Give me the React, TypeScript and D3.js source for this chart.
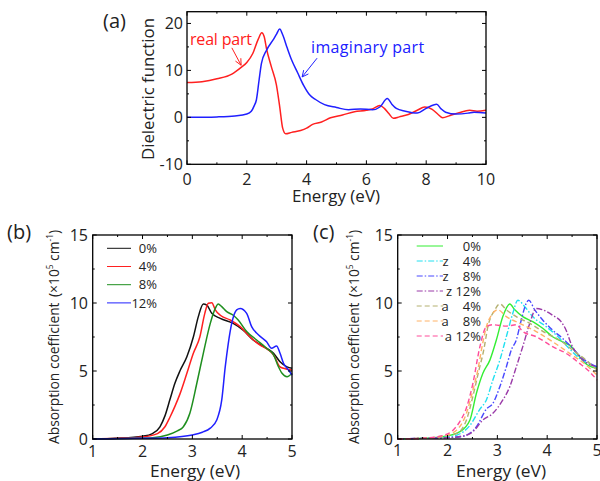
import React from "react";
import * as d3 from "d3";

type Pt = [number, number];

const FONT = "'Open Sans', 'Noto Sans', sans-serif";

// (a) dielectric function vs energy (eV)
const realPart: Pt[] = [
  [0, 7.4], [0.5, 7.6], [1.0, 8.2], [1.5, 9.2], [1.8, 10.6], [2.0, 11.7], [2.2, 13.6], [2.38, 16.6],
  [2.5, 18.0], [2.58, 17.2], [2.66, 14.6], [2.82, 10.8], [2.99, 6.9], [3.1, 2.3], [3.2, -2.3],
  [3.3, -3.5], [3.5, -3.2], [3.8, -2.8], [4.0, -2.3], [4.2, -1.5], [4.5, -1.0], [4.8, -0.1],
  [5.2, 0.5], [5.6, 1.2], [6.0, 1.5], [6.2, 1.8], [6.45, 2.5], [6.6, 1.9], [6.75, 0.8], [6.9, -0.2],
  [7.1, 0.1], [7.4, 0.6], [7.7, 1.5], [7.95, 2.2], [8.2, 1.7], [8.4, 0.6], [8.55, -0.1], [8.8, 0.4],
  [9.1, 1.0], [9.45, 1.5], [9.7, 1.3], [10, 1.5],
];
const imagPart: Pt[] = [
  [0, 0], [1.0, 0.1], [1.6, 0.3], [2.0, 0.7], [2.15, 1.3], [2.25, 2.5], [2.32, 3.7], [2.41, 7.9],
  [2.49, 11.5], [2.66, 14.3], [2.88, 16.5], [3.0, 17.8], [3.1, 18.8], [3.2, 17.6], [3.35, 14.8],
  [3.5, 12.2], [3.7, 9.5], [3.9, 6.8], [4.1, 4.8], [4.3, 3.8], [4.6, 2.7], [5.0, 2.1], [5.4, 1.6],
  [5.8, 1.8], [6.2, 1.6], [6.45, 2.2], [6.7, 4.0], [6.85, 2.8], [7.0, 1.9], [7.3, 1.3], [7.7, 0.9],
  [8.0, 1.9], [8.35, 2.8], [8.5, 1.8], [8.65, 1.1], [9.0, 0.7], [9.4, 0.9], [9.6, 1.1], [10, 0.9],
];

// (b) absorption coefficient (1e5 cm^-1), strain series
const strain0: Pt[] = [
  [1, 0], [1.5, 0.05], [2, 0.2], [2.2, 0.4], [2.35, 0.9], [2.45, 1.7], [2.55, 2.9], [2.65, 4.1],
  [2.75, 5.0], [2.89, 6.05], [3.02, 7.5], [3.12, 9.0], [3.22, 9.93], [3.29, 9.85], [3.39, 9.24],
  [3.56, 8.87], [3.82, 8.5], [4.02, 8.0], [4.22, 7.28], [4.43, 6.79], [4.63, 6.3], [4.76, 5.68],
  [4.9, 5.3], [5, 5.2],
];
const strain4: Pt[] = [
  [1, 0], [1.5, 0.05], [2, 0.15], [2.3, 0.4], [2.45, 0.9], [2.55, 1.6], [2.65, 2.4], [2.75, 3.3],
  [2.89, 4.83], [3.02, 6.3], [3.15, 7.5], [3.25, 9.24], [3.32, 9.98], [3.39, 10.02], [3.46, 9.5],
  [3.56, 9.1], [3.76, 8.75], [3.96, 8.26], [4.16, 7.5], [4.36, 6.9], [4.53, 6.54], [4.63, 6.18],
  [4.76, 5.3], [4.83, 5.2], [5, 5.07],
];
const strain8: Pt[] = [
  [1, 0], [1.8, 0.05], [2.2, 0.1], [2.5, 0.3], [2.7, 0.6], [2.82, 0.9], [2.95, 1.9], [3.09, 4.1],
  [3.22, 6.3], [3.36, 8.5], [3.46, 9.6], [3.52, 9.93], [3.59, 9.73], [3.69, 9.36], [3.82, 9.1],
  [3.92, 8.75], [4.09, 7.9], [4.29, 7.28], [4.49, 6.67], [4.63, 6.18], [4.73, 5.3], [4.8, 4.83],
  [4.9, 4.58], [5, 4.83],
];
const strain12: Pt[] = [
  [1, 0], [2, 0.05], [2.5, 0.1], [3.0, 0.3], [3.2, 0.5], [3.36, 0.8], [3.49, 1.4], [3.59, 2.87],
  [3.66, 5.3], [3.72, 7.0], [3.79, 8.5], [3.89, 9.5], [3.96, 9.6], [4.09, 9.24], [4.19, 8.26],
  [4.33, 7.65], [4.49, 7.15], [4.59, 6.67], [4.69, 6.84], [4.76, 6.3], [4.83, 5.57], [4.93, 5.07],
  [5, 4.7],
];

// (c) uniaxial strain along z and a
const c0: Pt[] = [
  [1, 0], [1.5, 0.05], [1.91, 0.17], [2.25, 0.54], [2.45, 1.4], [2.58, 3.36], [2.71, 4.83],
  [2.85, 5.8], [2.98, 7.28], [3.11, 9.0], [3.25, 9.93], [3.35, 9.5], [3.51, 9.0], [3.71, 8.63],
  [3.91, 8.14], [4.11, 7.52], [4.31, 7.15], [4.45, 6.9], [4.65, 6.05], [4.81, 5.44], [5, 5.2],
];
const z4: Pt[] = [
  [1, 0], [1.5, 0.05], [2.0, 0.15], [2.2, 0.3], [2.45, 1.0], [2.65, 2.2], [2.78, 2.87], [2.91, 4.34],
  [3.05, 5.8], [3.18, 7.52], [3.31, 9.24], [3.41, 10.2], [3.55, 9.73], [3.71, 9.0], [3.98, 8.26],
  [4.18, 7.65], [4.38, 6.9], [4.65, 5.93], [5, 5.3],
];
const z8: Pt[] = [
  [1, 0], [1.5, 0.05], [2.0, 0.1], [2.3, 0.2], [2.58, 0.9], [2.78, 2.2], [2.91, 2.62], [3.05, 3.85],
  [3.18, 5.3], [3.28, 6.54], [3.38, 7.28], [3.48, 8.75], [3.58, 9.98], [3.63, 10.2], [3.75, 9.5],
  [3.91, 8.75], [4.11, 8.0], [4.31, 7.4], [4.48, 6.79], [4.71, 5.93], [5, 5.3],
];
const z12: Pt[] = [
  [1, 0], [1.5, 0.05], [2.0, 0.1], [2.3, 0.2], [2.51, 0.54], [2.71, 1.4], [2.91, 1.89], [3.11, 2.87],
  [3.25, 3.85], [3.38, 5.3], [3.51, 6.79], [3.65, 8.5], [3.78, 9.6], [3.91, 9.5], [4.11, 9.1],
  [4.28, 8.63], [4.38, 8.0], [4.48, 7.0], [4.65, 6.05], [5, 5.3],
];
const a4: Pt[] = [
  [1, 0], [1.5, 0.05], [1.9, 0.2], [2.18, 0.4], [2.38, 1.4], [2.5, 3.0], [2.62, 4.9], [2.73, 6.6],
  [2.81, 8.26], [2.95, 9.5], [3.05, 9.93], [3.18, 9.5], [3.38, 9.0], [3.65, 8.5], [3.98, 7.77],
  [4.25, 7.28], [4.51, 6.54], [4.78, 5.8], [5, 5.07],
];
const a8: Pt[] = [
  [1, 0], [1.5, 0.05], [1.9, 0.2], [2.18, 0.65], [2.38, 1.9], [2.51, 3.6], [2.62, 5.3], [2.68, 6.54],
  [2.78, 8.26], [2.88, 9.1], [3.01, 9.5], [3.18, 9.0], [3.45, 8.5], [3.78, 7.9], [4.11, 7.15],
  [4.45, 6.3], [4.78, 5.44], [5, 4.7],
];
const a12: Pt[] = [
  [1, 0], [1.5, 0.05], [1.9, 0.25], [2.11, 0.65], [2.25, 1.3], [2.38, 2.3], [2.51, 4.1], [2.65, 6.79],
  [2.78, 8.26], [2.91, 8.4], [3.18, 8.3], [3.38, 8.4], [3.51, 7.9], [3.78, 7.52], [4.11, 6.79],
  [4.38, 6.3], [4.65, 5.56], [4.85, 4.95], [5, 4.34],
];

const seriesB = [
  { label: "0%", data: strain0, color: "#111111" },
  { label: "4%", data: strain4, color: "#ff2020" },
  { label: "8%", data: strain8, color: "#1f8f1f" },
  { label: "12%", data: strain12, color: "#2020ff" },
];
const dashDot = "6,2,1.5,2";
const dashed = "5,3";
const seriesC = [
  { label: "0%", data: c0, color: "#33ee33", dash: undefined },
  { label: "z \u2007 4%", data: z4, color: "#22e0f0", dash: dashDot },
  { label: "z \u2007 8%", data: z8, color: "#4848ff", dash: dashDot },
  { label: "z 12%", data: z12, color: "#9a3aa8", dash: dashDot },
  { label: "a \u2007 4%", data: a4, color: "#b4b070", dash: dashed },
  { label: "a \u2007 8%", data: a8, color: "#ffb266", dash: dashed },
  { label: "a 12%", data: a12, color: "#ff4d9a", dash: dashed },
];

interface Box { left: number; right: number; top: number; bottom: number }

function Frame(props: {
  box: Box; x: any; y: any; xMajor: number[]; xMinor: number[]; yMajor: number[]; yMinor: number[];
  xLabelY: number; yLabelX: number;
}) {
  const { box, x, y, xMajor, xMinor, yMajor, yMinor, xLabelY, yLabelX } = props;
  const tick = (v: number, len: number, axis: "x" | "y", k: string) =>
    axis === "x" ? (
      <g key={k}>
        <line x1={x(v)} x2={x(v)} y1={box.bottom} y2={box.bottom - len} stroke="#000" />
        <line x1={x(v)} x2={x(v)} y1={box.top} y2={box.top + len} stroke="#000" />
      </g>
    ) : (
      <g key={k}>
        <line x1={box.left} x2={box.left + len} y1={y(v)} y2={y(v)} stroke="#000" />
        <line x1={box.right} x2={box.right - len} y1={y(v)} y2={y(v)} stroke="#000" />
      </g>
    );
  return (
    <g>
      {xMajor.map((v, i) => tick(v, 4, "x", "xM" + i))}
      {xMinor.map((v, i) => tick(v, 2, "x", "xm" + i))}
      {yMajor.map((v, i) => tick(v, 4, "y", "yM" + i))}
      {yMinor.map((v, i) => tick(v, 2, "y", "ym" + i))}
      <rect x={box.left} y={box.top} width={box.right - box.left} height={box.bottom - box.top}
        fill="none" stroke="#000" strokeWidth={1.3} />
      {xMajor.map((v, i) => (
        <text key={"xl" + i} x={x(v)} y={xLabelY} textAnchor="middle" fontSize={16} fill="#222">{v}</text>
      ))}
      {yMajor.map((v, i) => (
        <text key={"yl" + i} x={yLabelX} y={y(v)} dy="0.36em" textAnchor="end" fontSize={16} fill="#222">{v}</text>
      ))}
    </g>
  );
}

function Arrow({ from, to, color }: { from: Pt; to: Pt; color: string }) {
  const ang = Math.atan2(to[1] - from[1], to[0] - from[0]);
  const L = 7, spread = 0.45;
  const p1 = [to[0] - L * Math.cos(ang - spread), to[1] - L * Math.sin(ang - spread)];
  const p2 = [to[0] - L * Math.cos(ang + spread), to[1] - L * Math.sin(ang + spread)];
  return (
    <g stroke={color} strokeWidth={1} fill="none">
      <line x1={from[0]} y1={from[1]} x2={to[0]} y2={to[1]} />
      <polyline points={`${p1[0]},${p1[1]} ${to[0]},${to[1]} ${p2[0]},${p2[1]}`} />
    </g>
  );
}

function AbsLabel({ x, y }: { x: number; y: number }) {
  return (
    <text transform={`translate(${x},${y}) rotate(-90)`} textAnchor="middle" fontSize={15} fill="#222"
      textLength={214} lengthAdjust="spacingAndGlyphs">
      Absorption coefficient<tspan dx="6">(×10</tspan>
      <tspan fontSize={9} dy="-6">5</tspan>
      <tspan dy="6"> cm</tspan>
      <tspan fontSize={9} dy="-6">-1</tspan>
      <tspan dy="6">)</tspan>
    </text>
  );
}

export default function App() {
  // panel (a)
  const boxA: Box = { left: 187, right: 486, top: 11.7, bottom: 164.3 };
  const xA = d3.scaleLinear().domain([0, 10]).range([boxA.left, boxA.right]);
  const yA = d3.scaleLinear().domain([-10, 22.5]).range([boxA.bottom, boxA.top]);
  const lineA = d3.line<Pt>().x(d => xA(d[0])).y(d => yA(d[1])).curve(d3.curveMonotoneX);

  // panel (b)
  const boxB: Box = { left: 92.7, right: 292, top: 235, bottom: 439 };
  const xB = d3.scaleLinear().domain([1, 5]).range([boxB.left, boxB.right]);
  const yB = d3.scaleLinear().domain([0, 15]).range([boxB.bottom, boxB.top]);
  const lineB = d3.line<Pt>().x(d => xB(d[0])).y(d => yB(d[1])).curve(d3.curveMonotoneX);

  // panel (c)
  const boxC: Box = { left: 397.7, right: 597, top: 235, bottom: 439 };
  const xC = d3.scaleLinear().domain([1, 5]).range([boxC.left, boxC.right]);
  const yC = d3.scaleLinear().domain([0, 15]).range([boxC.bottom, boxC.top]);
  const lineC = d3.line<Pt>().x(d => xC(d[0])).y(d => yC(d[1])).curve(d3.curveMonotoneX);

  const e5 = d3.range(1, 5.01, 1);
  const e5minor = d3.range(1.5, 5, 1);
  const abs = [0, 5, 10, 15];
  const absMinor = [2.5, 7.5, 12.5];

  return (
    <svg width={600} height={481} style={{ position: "absolute", left: 0, top: 0, background: "#fff" }}
      fontFamily={FONT}>
      {/* (a) */}
      <text x={126} y={28} textAnchor="end" fontSize={20} fill="#222">(a)</text>
      <g clipPath="url(#clipA)">
        <path d={lineA(realPart) || ""} fill="none" stroke="#ff2020" strokeWidth={1.5} />
        <path d={lineA(imagPart) || ""} fill="none" stroke="#2020ff" strokeWidth={1.5} />
      </g>
      <Frame box={boxA} x={xA} y={yA} xMajor={d3.range(0, 10.01, 2)} xMinor={d3.range(1, 10, 2)}
        yMajor={[-10, 0, 10, 20]} yMinor={[-5, 5, 15]} xLabelY={185} yLabelX={183} />
      <text x={xA(0.1)} y={yA(15.4)} fontSize={16} fill="#ff2020" textLength={62}>real part</text>
      <Arrow from={[xA(1.5), yA(14.8)]} to={[xA(1.81), yA(11.1)]} color="#ff2020" />
      <text x={xA(4.15)} y={yA(13.7)} fontSize={16} fill="#2020ff" textLength={113}>imaginary part</text>
      <Arrow from={[xA(4.35), yA(12.6)]} to={[xA(3.85), yA(8.6)]} color="#2020ff" />
      <text transform={`translate(154,89) rotate(-90)`} textAnchor="middle" fontSize={17} fill="#222"
        textLength={142} lengthAdjust="spacingAndGlyphs">Dielectric function</text>
      <text x={336} y={202} textAnchor="middle" fontSize={16} fill="#222" textLength={88}
        lengthAdjust="spacingAndGlyphs">Energy (eV)</text>

      {/* (b) */}
      <text x={7} y={239} fontSize={20} fill="#222">(b)</text>
      {seriesB.map(s => (
        <path key={s.label} d={lineB(s.data) || ""} fill="none" stroke={s.color} strokeWidth={1.5} />
      ))}
      <Frame box={boxB} x={xB} y={yB} xMajor={e5} xMinor={e5minor} yMajor={abs} yMinor={absMinor}
        xLabelY={456.5} yLabelX={88} />
      {seriesB.map((s, i) => (
        <g key={"lb" + i}>
          <line x1={107} x2={131} y1={248.3 + i * 18.2} y2={248.3 + i * 18.2} stroke={s.color} strokeWidth={1} />
          <text x={157} y={248.3 + i * 18.2} dy="0.36em" textAnchor="end" fontSize={13} fill="#222">{s.label}</text>
        </g>
      ))}
      <AbsLabel x={59} y={337} />
      <text x={195} y={477} textAnchor="middle" fontSize={16} fill="#222" textLength={90}
        lengthAdjust="spacingAndGlyphs">Energy (eV)</text>

      {/* (c) */}
      <text x={313} y={239} fontSize={20} fill="#222">(c)</text>
      {seriesC.map((s, i) => (
        <path key={"c" + i} d={lineC(s.data) || ""} fill="none" stroke={s.color} strokeWidth={1.4}
          strokeDasharray={s.dash} />
      ))}
      <Frame box={boxC} x={xC} y={yC} xMajor={e5} xMinor={e5minor} yMajor={abs} yMinor={absMinor}
        xLabelY={455.5} yLabelX={393} />
      {seriesC.map((s, i) => {
        const ly = 246 + i * 15;
        return (
          <g key={"lc" + i}>
            <line x1={416.7} x2={443} y1={ly} y2={ly} stroke={s.color} strokeWidth={1} strokeDasharray={s.dash} />
            <text x={481} y={ly} dy="0.36em" textAnchor="end" fontSize={13} fill="#222"
              style={{ whiteSpace: "pre" }}>{s.label}</text>
          </g>
        );
      })}
      <AbsLabel x={359} y={337} />
      <text x={501} y={477} textAnchor="middle" fontSize={16} fill="#222" textLength={90}
        lengthAdjust="spacingAndGlyphs">Energy (eV)</text>
      <defs>
        <clipPath id="clipA">
          <rect x={boxA.left} y={boxA.top} width={boxA.right - boxA.left} height={boxA.bottom - boxA.top} />
        </clipPath>
      </defs>
    </svg>
  );
}
